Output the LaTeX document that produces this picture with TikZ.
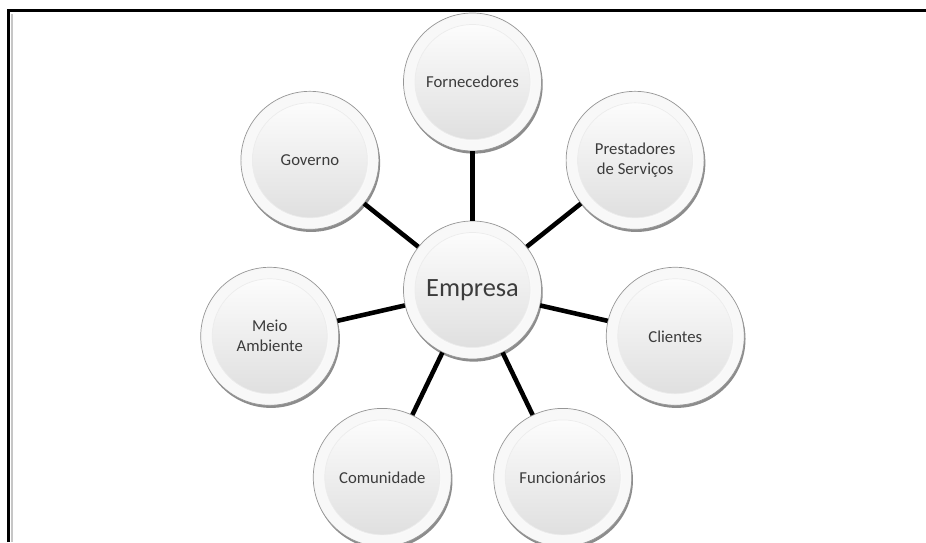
\documentclass[tikz,border=0pt]{standalone}
\usepackage{fontspec}
\setmainfont{Carlito}
\usetikzlibrary{shadows}
\definecolor{textgray}{RGB}{60,60,60}
\definecolor{rimgray}{RGB}{150,150,150}

\begin{document}
\begin{tikzpicture}[
	bubble/.style={circle, minimum size=2.76cm, inner sep=0pt, align=center,
		draw=rimgray, line width=0.4pt, text=textgray,
		font=\fontsize{9.5}{11.4}\selectfont,
		inner color=white, outer color=gray!6,
		drop shadow={shadow xshift=0.7pt, shadow yshift=-1.5pt, opacity=0.45, fill=black},
		path picture={\shade[top color=white, bottom color=gray!27, draw=gray!15]
			(path picture bounding box.center) circle (1.15cm);}},
	link/.style={line width=2.6pt, black}
	]
		\clip (0,0) rectangle (18.52,10.84);
		% Frame
		\draw[line width=1.6pt] (0.17,0) -- (0.17,10.63) -- (18.52,10.63);
		\draw[gray!45, line width=0.6pt] (0.24,0) -- (0.24,10.56);
		% Company
		\node[bubble, font=\fontsize{15}{18}\selectfont] (emp) at (9.45,5.04) {Empresa};
		% Stakeholders
		\foreach \i/\name/\txt in {0/forn/Fornecedores, 1/prest/{Prestadores\\de Serviços},
			2/cli/Clientes, 3/func/Funcionários, 4/comu/Comunidade,
			5/meio/{Meio\\Ambiente}, 6/gov/Governo}{
		\def\angle{90-\i*360/7}
		\node[bubble] (\name) at ([shift={(\angle:4.16cm)}]emp.center) {\txt};
		\draw[link] (emp) -- (\name);
		}
	\end{tikzpicture}
\end{document}
